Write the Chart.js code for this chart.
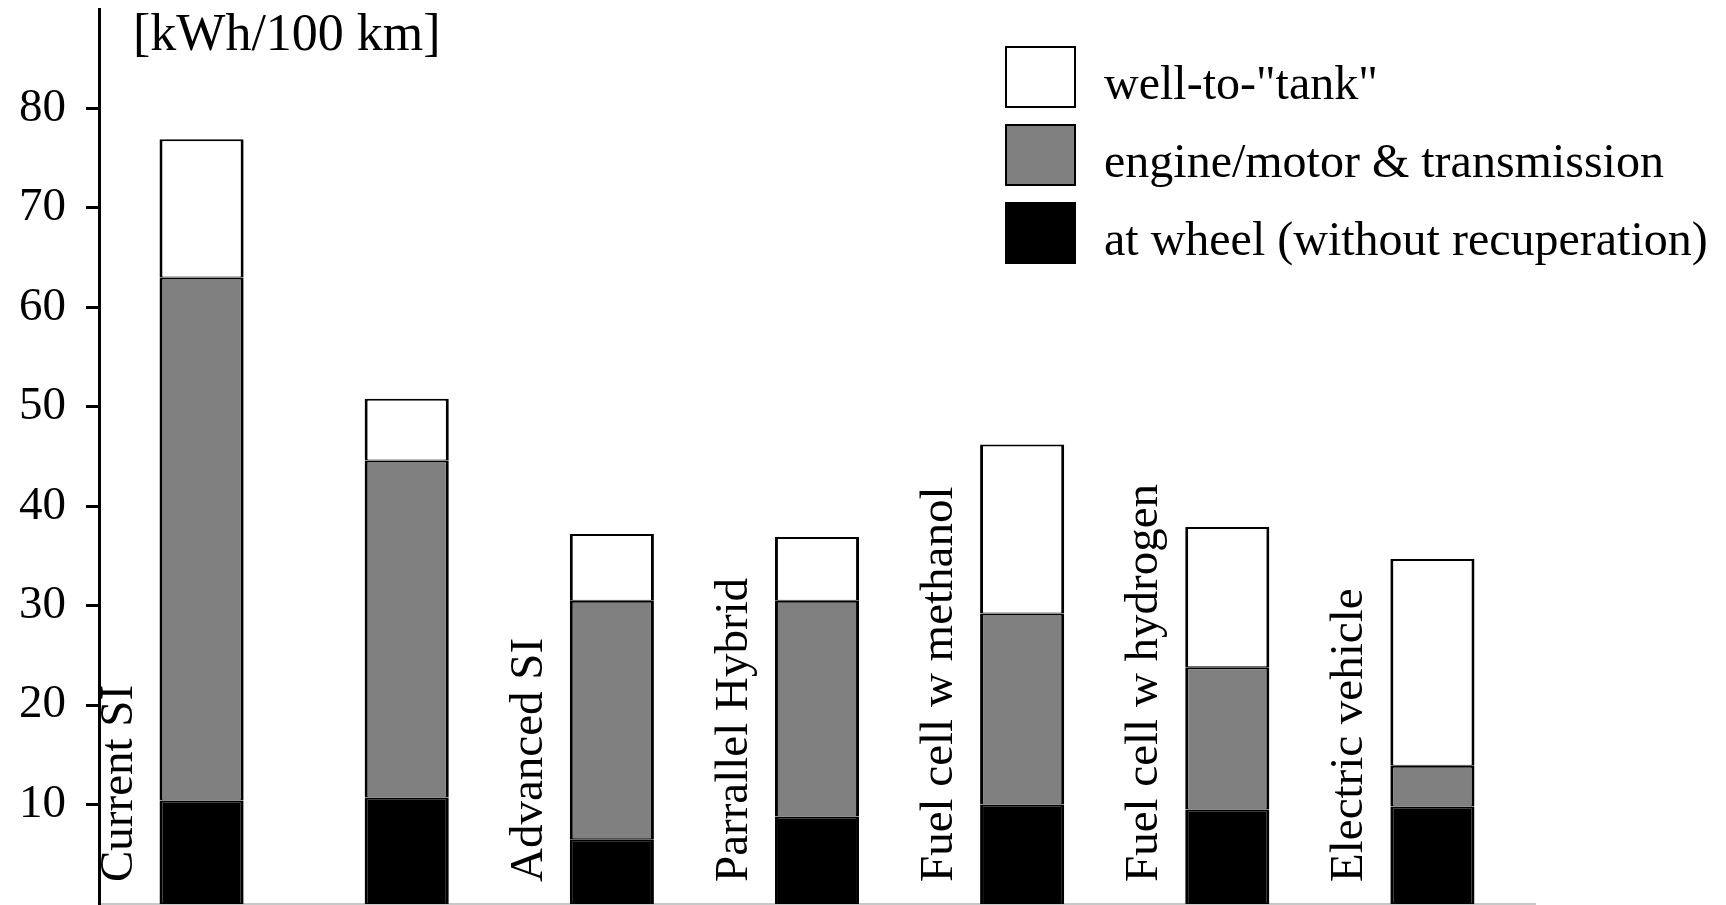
<!DOCTYPE html>
<html>
<head>
<meta charset="utf-8">
<script src="https://cdn.jsdelivr.net/npm/chart.js@4.4.1/dist/chart.umd.min.js"></script>
<style>
  html, body { margin: 0; padding: 0; background: #fff; }
  #wrap { width: 1726px; height: 905px; position: relative; }
</style>
</head>
<body>
<div id="wrap"><canvas id="energyChart"></canvas></div>
<script>
const categories = ['Current SI', '', 'Advanced SI', 'Parrallel Hybrid', 'Fuel cell w methanol', 'Fuel cell w hydrogen', 'Electric vehicle'];
// segment heights, bottom to top
const atWheel = [10.4, 10.7, 6.5, 8.8, 10.0, 9.5, 9.8];
const engineTransmission = [52.6, 33.9, 24.0, 21.7, 19.2, 14.3, 4.1];
const wellToTank = [13.9, 6.2, 6.7, 6.4, 17.0, 14.1, 20.8];
const yTicks = [10, 20, 30, 40, 50, 60, 70, 80];
const unitLabel = '[kWh/100 km]';

const serif = '"Liberation Serif", "Times New Roman", serif';

// unit text, rotated category names and the legend
const annotations = {
    id: 'annotations',
    afterDraw(chart) {
        const ctx = chart.ctx;
        const xs = chart.scales.x;
        ctx.save();
        ctx.fillStyle = '#000';
        ctx.textAlign = 'left';
        ctx.textBaseline = 'alphabetic';

        ctx.font = '52px ' + serif;
        ctx.fillText(unitLabel, 133, 50);

        ctx.font = '47px ' + serif;
        categories.forEach((c, i) => {
            ctx.save();
            ctx.translate(xs.getPixelForValue(i) - 70, chart.chartArea.bottom - 22);
            ctx.rotate(-Math.PI / 2);
            ctx.fillText(c, 0, 0);
            ctx.restore();
        });

        ctx.font = '48px ' + serif;
        chart.data.datasets.slice().reverse().forEach((ds, i) => {
            const top = 47 + i * 78;
            ctx.fillStyle = ds.backgroundColor;
            ctx.fillRect(1006, top, 69, 60);
            ctx.lineWidth = 2;
            ctx.strokeStyle = '#000';
            ctx.strokeRect(1006, top, 69, 60);
            ctx.fillStyle = '#000';
            ctx.fillText(ds.label, 1104, top + 52);
        });
        ctx.restore();
    }
};

const ctx = document.getElementById('energyChart').getContext('2d');
new Chart(ctx, {
    type: 'bar',
    data: {
        labels: categories,
        datasets: [
            { label: 'at wheel (without recuperation)', data: atWheel, backgroundColor: '#000000' },
            { label: 'engine/motor & transmission', data: engineTransmission, backgroundColor: '#808080' },
            { label: 'well-to-"tank"', data: wellToTank, backgroundColor: '#ffffff' }
        ]
    },
    options: {
        responsive: true,
        maintainAspectRatio: false,
        animation: false,
        datasets: {
            bar: {
                borderColor: '#000',
                borderWidth: { top: 2, bottom: 1, left: 3, right: 3 },
                borderSkipped: false,
                inflateAmount: 0,
                categoryPercentage: 1,
                barPercentage: 0.41
            }
        },
        layout: { padding: { top: 9, right: 191, left: 0, bottom: 0 } },
        scales: {
            x: {
                stacked: true,
                ticks: { display: false },
                grid: { display: false },
                border: { display: true, color: '#c8c8c8', width: 2 },
                afterFit: s => { s.height = 1; s.paddingLeft = 0; s.paddingRight = 0; }
            },
            y: {
                stacked: true,
                min: 0,
                max: 90,
                afterBuildTicks: s => { s.ticks = yTicks.map(v => ({ value: v })); },
                ticks: {
                    color: '#000',
                    padding: 20,
                    font: { family: serif, size: 47 }
                },
                grid: { drawOnChartArea: false, tickLength: 13, color: '#000', lineWidth: 3 },
                border: { display: true, color: '#000', width: 3 },
                afterFit: s => { s.width = 99; s.paddingTop = 0; s.paddingBottom = 0; }
            }
        },
        plugins: {
            legend: { display: false },
            tooltip: { enabled: false }
        }
    },
    plugins: [annotations]
});
</script>
</body>
</html>
